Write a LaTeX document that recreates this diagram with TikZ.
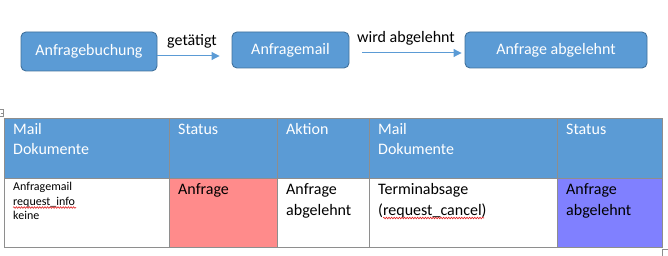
\documentclass[tikz,border=0pt]{standalone}
\usepackage{fontspec}
\setmainfont{Carlito}
\usetikzlibrary{arrows.meta,decorations.pathmorphing}
\definecolor{boxblue}{HTML}{5B9BD5}
\definecolor{boxedge}{HTML}{41719C}
\definecolor{gridgray}{HTML}{8E8E8E}
\definecolor{cellred}{HTML}{FF8B8B}
\definecolor{cellviolet}{HTML}{8080FF}
\definecolor{spellred}{HTML}{E02020}
\begin{document}
\begin{tikzpicture}[x=1pt,y=-1pt,
  flowbox/.style={draw=boxedge,fill=boxblue,line width=0.9pt,rounded corners=5pt,
     text=white,font=\fontsize{16}{19}\selectfont,inner sep=0pt},
  arr/.style={draw=boxblue,line width=1pt,-{Triangle[length=8pt,width=8pt]}},
  lbl/.style={font=\fontsize{16}{19}\selectfont,text=black,inner sep=0pt},
  txt/.style={anchor=base west,inner sep=0pt,font=\fontsize{16}{19}\selectfont},
  htxt/.style={txt,text=white},
  stxt/.style={anchor=base west,inner sep=0pt,font=\fontsize{12}{14}\selectfont},
  grid/.style={draw=gridgray,line width=1pt},
  squiggle/.style={draw=spellred,line width=0.6pt,decorate,
     decoration={snake,amplitude=0.8pt,segment length=2.6pt}}]
\useasboundingbox (0,0) rectangle (668,256);

% --- flow diagram
\node[flowbox,minimum width=136pt,minimum height=39pt] (b1) at (89,51.5) {Anfragebuchung};
\node[flowbox,minimum width=117pt,minimum height=36pt] (b2) at (290.5,50) {Anfragemail};
\node[flowbox,minimum width=182pt,minimum height=36pt] (b3) at (556,50) {Anfrage abgelehnt};

\draw[arr,shorten >=12pt] ([yshift=-4.5pt]b1.east) -- ([yshift=-4.5pt]b1.east -| b2.west);
\draw[arr,shorten <=13pt,shorten >=3pt] ([yshift=-3pt]b2.east) -- ([yshift=-3pt]b2.east -| b3.west);
\node[lbl] (l1) at (192,41) {getätigt};
\node[lbl] (l2) at (406,38) {wird abgelehnt};

% --- table fills
\fill[boxblue] (4,119) rectangle (662,179);
\fill[cellred] (169,179) rectangle (277,247);
\fill[cellviolet] (557,179) rectangle (662,247);

% --- table grid
\draw[grid] (4,119) rectangle (662,247);
\draw[grid] (4,179) -- (662,179);
\foreach \cx in {169,277,369,557} \draw[grid] (\cx,119) -- (\cx,247);

% --- header texts
\node[htxt] (h1a) at (13,135) {Mail};
\node[htxt] (h1b) at (13,155) {Dokumente};
\node[htxt] (h2) at (178,135) {Status};
\node[htxt] (h3) at (286,135) {Aktion};
\node[htxt] (h4a) at (378,135) {Mail};
\node[htxt] (h4b) at (378,155) {Dokumente};
\node[htxt] (h5) at (566,135) {Status};

% --- body texts
\node[stxt] (c1a) at (13,191) {Anfragemail};
\node[stxt] (c1b) at (13,205) {request\_info};
\node[stxt] (c1c) at (13,219) {keine};
\node[txt] (c2) at (178,195) {Anfrage};
\node[txt] (c3a) at (286,195) {Anfrage};
\node[txt] (c3b) at (286,215) {abgelehnt};
\node[txt] (c4a) at (378,195) {Terminabsage};
\node[txt] (c4b) at (378,215) {(request\_cancel)};
\node[txt] (c5a) at (566,195) {Anfrage};
\node[txt] (c5b) at (566,215) {abgelehnt};

% --- spell-check squiggles
\coordinate (s1a) at (13,207.5);
\coordinate (s1b) at (76,207.5);
\coordinate (s2a) at (383,218);
\coordinate (s2b) at (484,218);
\draw[squiggle] (s1a) -- (s1b);
\draw[squiggle] (s2a) -- (s2b);

% --- editor handles
\draw[gridgray,line width=0.6pt] (-3,109.5) rectangle (3,116.5);
\draw[gridgray,line width=0.6pt] (0.5,113) -- (2.5,113);
\draw[gridgray,line width=1pt] (662.5,256) -- (662.5,249.5) -- (668,249.5);
\end{tikzpicture}
\end{document}
